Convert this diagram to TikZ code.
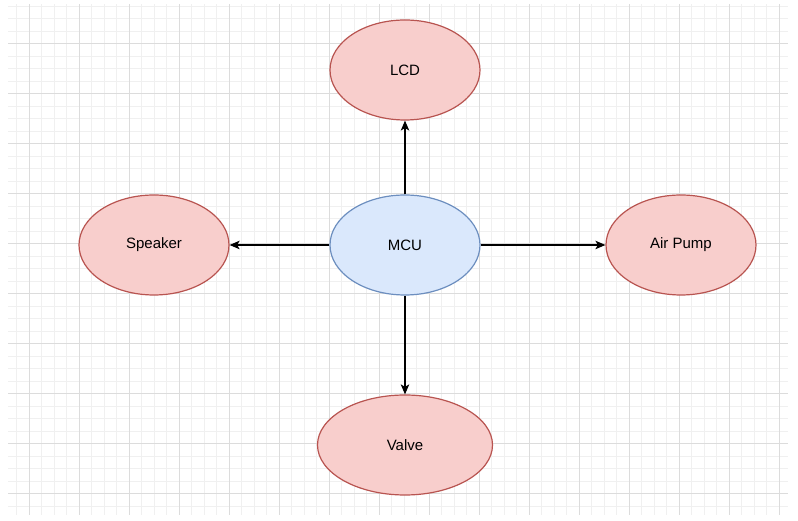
\documentclass[tikz,border=0pt]{standalone}
\usepackage{fontspec}
\setmainfont{Liberation Sans}
\usepackage{tikz}
\usetikzlibrary{shapes.geometric,arrows.meta}
\definecolor{redfill}{HTML}{F8CECC}
\definecolor{redline}{HTML}{B85450}
\definecolor{bluefill}{HTML}{DAE8FC}
\definecolor{blueline}{HTML}{6C8EBF}
\definecolor{gridminor}{HTML}{F0F0F0}
\definecolor{gridmajor}{HTML}{DCDCDC}

\begin{document}
\begin{tikzpicture}[x=1pt,y=1pt,
  part/.style={draw=redline,fill=redfill,ellipse,line width=1.2pt,
    minimum width=150pt,minimum height=100pt,inner sep=0pt,font=\fontsize{15}{18}\selectfont},
  ctrl/.style={part,draw=blueline,fill=bluefill},
  link/.style={line width=1.2pt,-{Stealth[length=10pt,width=8.5pt,inset=2.5pt]}}]
  \useasboundingbox (0,0) rectangle (798,521);
  \fill[white] (0,0) rectangle (798,521);
  \begin{scope}[shift={(29,27)}]
     \draw[gridminor,line width=1pt] (-21,-21) grid[step=12.5pt] (759,490);
     \draw[gridmajor,line width=1pt] (-21,-21) grid[step=50pt] (759,490);
  \end{scope}
  \node[ctrl] (MCU) at (405,276) {MCU};
  \node[part] (LCD) at (405,451) {LCD};
  \node[part] (Speaker) at (154,276) {Speaker};
  \node[part] (AirPump) at (681,276) {Air Pump};
  \node[part,minimum width=175pt] (Valve) at (405,76) {Valve};
  \draw[link] (MCU) -- (LCD);
  \draw[link] (MCU) -- (Speaker);
  \draw[link] (MCU) -- (AirPump);
  \draw[link] (MCU) -- (Valve);
\end{tikzpicture}
\end{document}
